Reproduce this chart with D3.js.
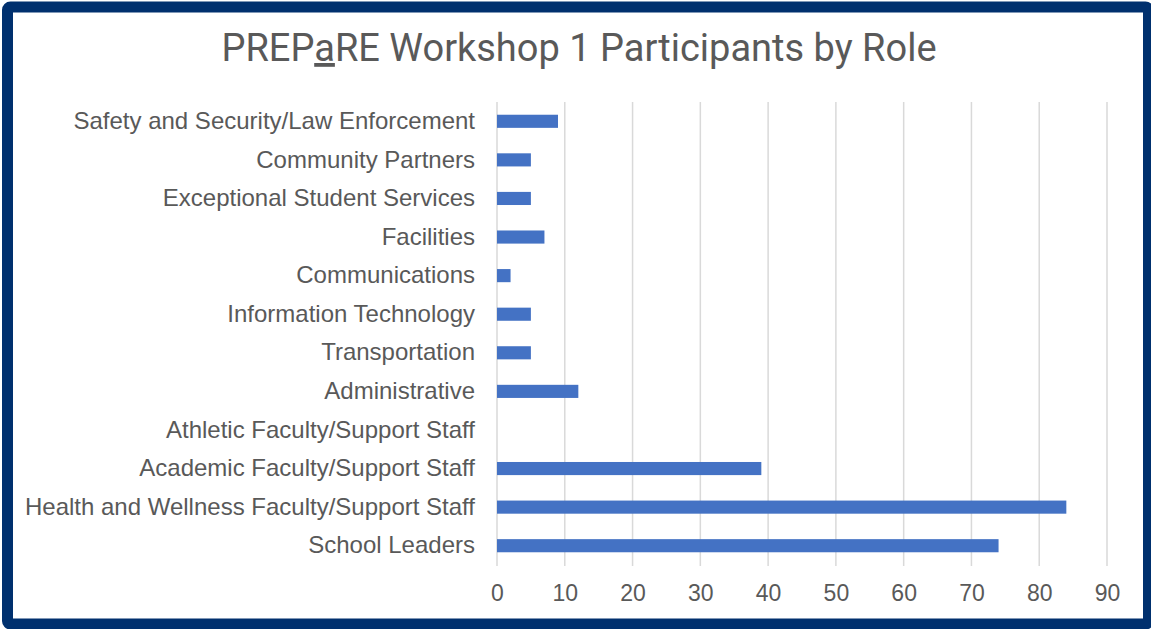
<!DOCTYPE html>
<html>
<head>
<meta charset="utf-8">
<script src="https://cdn.jsdelivr.net/npm/d3@7"></script>
<style>
  html, body { margin: 0; padding: 0; background: #fff; }
  svg { display: block; font-family: Roboto, "Liberation Sans", sans-serif; }
</style>
</head>
<body>
<div id="chart"></div>
<script>
// categories top to bottom, as shown
const roles = [
  'Safety and Security/Law Enforcement',
  'Community Partners',
  'Exceptional Student Services',
  'Facilities',
  'Communications',
  'Information Technology',
  'Transportation',
  'Administrative',
  'Athletic Faculty/Support Staff',
  'Academic Faculty/Support Staff',
  'Health and Wellness Faculty/Support Staff',
  'School Leaders'
];
const participants = [9, 5, 5, 7, 2, 5, 5, 12, 0, 39, 84, 74];
const xTicks = [0, 10, 20, 30, 40, 50, 60, 70, 80, 90];

const width = 1151, height = 629;
const margin = {top: 102, right: 44, bottom: 64, left: 497};

const svg = d3.select('#chart')
  .append('svg')
    .attr('width', width)
    .attr('height', height);

// navy frame
svg.append('rect')
  .attr('x', 7.5).attr('y', 7)
  .attr('width', 1141).attr('height', 617)
  .attr('rx', 3)
  .attr('fill', '#fff')
  .attr('stroke', '#00306e')
  .attr('stroke-width', 11);

const x = d3.scaleLinear()
  .domain([0, 90])
  .range([margin.left, width - margin.right]);

const y = d3.scaleBand()
  .domain(roles)
  .range([margin.top, height - margin.bottom])
  .paddingInner(0.66)
  .paddingOuter(0.33);

// gridlines
svg.append('g')
  .selectAll('line')
  .data(xTicks)
  .enter()
  .append('line')
    .attr('x1', d => x(d)).attr('x2', d => x(d))
    .attr('y1', margin.top).attr('y2', height - margin.bottom + 1)
    .attr('stroke', '#d9d9d9')
    .attr('stroke-width', 1.5);

// bars
svg.append('g')
  .selectAll('rect')
  .data(roles)
  .enter()
  .append('rect')
    .attr('x', x(0))
    .attr('y', d => y(d))
    .attr('width', (d, i) => x(participants[i]) - x(0))
    .attr('height', y.bandwidth())
    .attr('fill', '#4472c4');

// x axis labels
const xAxis = svg.append('g')
  .attr('transform', `translate(0,${height - margin.bottom})`)
  .call(d3.axisBottom(x).tickValues(xTicks).tickSize(0).tickPadding(20));
xAxis.select('.domain').remove();
xAxis.selectAll('text')
  .attr('fill', '#595959')
  .style('font-size', '23px');

// category labels
const yAxis = svg.append('g')
  .attr('transform', `translate(${margin.left},0)`)
  .call(d3.axisLeft(y).tickSize(0).tickPadding(22));
yAxis.select('.domain').remove();
yAxis.selectAll('text')
  .attr('fill', '#595959')
  .style('font-size', '24px');

// title with underlined "a"
const title = svg.append('text')
  .attr('x', 579).attr('y', 61)
  .attr('text-anchor', 'middle')
  .attr('fill', '#595959')
  .style('font-size', '38px');
title.append('tspan').text('PREP');
title.append('tspan').text('a').style('text-decoration', 'underline');
title.append('tspan').text('RE Workshop 1 Participants by Role');
</script>
</body>
</html>
